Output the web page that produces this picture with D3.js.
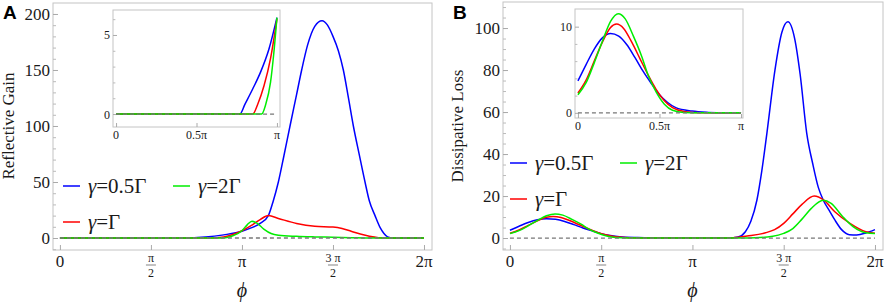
<!DOCTYPE html>
<html lang="en">
<head>
<meta charset="UTF-8">
<title>Reflective Gain and Dissipative Loss</title>
<script src="https://d3js.org/d3.v7.min.js"></script>
<style>
  body { margin: 0; background: #fff; }
  svg text { font-family: "Liberation Serif", "Times New Roman", "DejaVu Serif", serif !important; fill: #1a1a1a; }
  svg text.letter { font-family: "Liberation Sans", Arial, sans-serif !important; font-weight: bold; fill: #000; }
</style>
</head>
<body>
<svg id="chart" width="886" height="303"></svg>
<script>
// x values are in units of pi
const seriesNames = ["γ=0.5Γ", "γ=Γ", "γ=2Γ"];
const seriesColors = ["#0000ff", "#ff0000", "#00ee00"];

// Panel A - reflective gain
const gainBlue = [[0,0],[0.6,0],[0.72,0.1],[0.8,0.8],[0.9,2.8],[1.0,6],[1.05,9],[1.1,13],[1.145,20],[1.17,32],[1.2,50],
  [1.23,73],[1.264,100],[1.3,128],[1.328,150],[1.36,172],[1.4,189],[1.44,194],[1.47,190],[1.5,180],[1.53,167],
  [1.557,150],[1.585,125],[1.612,100],[1.645,74],[1.676,50],[1.70,33],[1.731,20],[1.76,9],[1.78,4],[1.8,1],[1.83,0],[2,0]];
const gainRed = [[0,0],[0.8,0],[0.85,0.1],[0.9,0.9],[0.95,3.1],[1.0,6.5],[1.05,11],[1.1,16.5],[1.145,20],[1.2,17.5],
  [1.3,13],[1.4,10.5],[1.5,9.8],[1.55,8.5],[1.6,6],[1.65,3.5],[1.7,1.5],[1.75,0.3],[1.8,0],[2,0]];
const gainGreen = [[0,0],[0.88,0],[0.91,0.3],[0.95,2],[1.0,6.5],[1.03,12],[1.055,15],[1.08,13.5],[1.12,8],[1.16,4],
  [1.2,2.5],[1.3,1.5],[1.4,1],[1.5,0.7],[1.6,0.3],[1.7,0],[2,0]];

// inset A (0..pi)
const gainInsetBlue = [[0,0],[0.77,0],[0.8,0.6],[0.85,1.6],[0.9,2.7],[0.95,4.1],[1.0,6.1]];
const gainInsetRed = [[0,0],[0.85,0],[0.88,0.6],[0.92,1.8],[0.96,3.5],[1.0,6.0]];
const gainInsetGreen = [[0,0],[0.905,0],[0.93,0.6],[0.96,2],[0.98,3.8],[1.0,6.1]];

// Panel B - dissipative loss
const lossBlue = [[0,3.7],[0.05,5.6],[0.1,7.4],[0.15,8.7],[0.2,9.2],[0.25,8.9],[0.3,7.9],[0.35,6.4],[0.4,4.8],[0.45,3.4],
  [0.5,2.1],[0.55,1.2],[0.6,0.6],[0.7,0.2],[0.8,0.05],[0.9,0],[1.2,0],[1.25,0.5],[1.29,3],[1.32,8],[1.353,18],[1.38,32],
  [1.408,50],[1.452,80],[1.49,98],[1.523,103],[1.56,95],[1.59,78],[1.626,50],[1.66,35],[1.69,24],[1.717,18],[1.75,13],
  [1.78,8.6],[1.817,4],[1.86,1.6],[1.9,1.5],[1.95,2.4],[2,4]];
const lossRed = [[0,2.3],[0.05,3.8],[0.1,6],[0.15,8.2],[0.2,9.9],[0.237,10.3],[0.28,9.8],[0.33,8.2],[0.38,6.3],[0.43,4.4],
  [0.48,2.7],[0.53,1.4],[0.58,0.6],[0.65,0.15],[0.75,0],[1.2,0],[1.3,1],[1.4,2.5],[1.45,4],[1.5,7],[1.55,11.5],[1.6,16],
  [1.667,20],[1.72,18],[1.78,12.5],[1.863,7],[1.95,3],[2,2.3]];
const lossGreen = [[0,2.1],[0.05,3.5],[0.1,5.8],[0.15,8.3],[0.2,10.6],[0.247,11.5],[0.29,10.9],[0.34,8.9],[0.39,6.6],
  [0.43,4.4],[0.48,2.4],[0.53,1.0],[0.58,0.3],[0.65,0.05],[0.75,0],[1.3,0],[1.44,0.8],[1.5,2.2],[1.55,4.5],[1.6,9],
  [1.65,14],[1.716,18],[1.76,16.5],[1.82,10.5],[1.88,5.4],[1.95,2.5],[2,2.1]];

// inset B (0..pi)
const lossInsetBlue = lossBlue.filter(d => d[0] <= 1).concat([[1,0]]);
const lossInsetRed = lossRed.filter(d => d[0] <= 1).concat([[1,0]]);
const lossInsetGreen = lossGreen.filter(d => d[0] <= 1).concat([[1,0]]);

// ticks
const mainXTicks = [0, 0.5, 1, 1.5, 2];
const mainXLabels = [{n: "0"}, {n: "π", d: "2"}, {n: "π"}, {n: "3 π", d: "2"}, {n: "2π"}];
const insetXTicks = [0, 0.5, 1];
const insetXLabels = ["0", "0.5π", "π"];

const svg = d3.select("#chart");
const line = (x, y) => d3.line().x(d => x(d[0])).y(d => y(d[1])).curve(d3.curveMonotoneX);

function frame(g, x, y) {
  const [x0, x1] = x.range(), [y0, y1] = y.range();
  g.append("rect").attr("x", x0).attr("y", y1).attr("width", x1 - x0).attr("height", y0 - y1)
    .attr("fill", "#fff").attr("stroke", "#c4c4c4").attr("stroke-width", 1);
}

function ticksY(g, x, y, major, minor, size, labelFmt, fontSize) {
  const left = x.range()[0];
  g.append("g").attr("transform", `translate(${left},0)`)
    .call(d3.axisLeft(y).tickValues(minor).tickSize(-size * 0.6).tickFormat(""))
    .call(s => s.select(".domain").remove())
    .call(s => s.selectAll("line").attr("stroke", "#bbb"));
  const ax = g.append("g").attr("transform", `translate(${left},0)`)
    .call(d3.axisLeft(y).tickValues(major).tickSize(-size).tickPadding(3).tickFormat(labelFmt))
    .call(s => s.select(".domain").remove());
  ax.selectAll("line").attr("stroke", "#aaa");
  ax.selectAll("text").attr("font-size", fontSize).attr("dy", "0.33em");
}

function ticksX(g, x, y, values, size) {
  const bottom = y.range()[0];
  g.append("g").attr("transform", `translate(0,${bottom})`)
    .call(d3.axisBottom(x).tickValues(values).tickSize(-size).tickFormat(""))
    .call(s => s.select(".domain").remove())
    .call(s => s.selectAll("line").attr("stroke", "#aaa"));
}

function curves(g, x, y, data) {
  data.forEach((s, i) => {
    g.append("path").datum(s).attr("d", line(x, y)).attr("fill", "none")
      .attr("stroke", seriesColors[i]).attr("stroke-width", 1.5);
  });
}

function zeroLine(g, x, y, x1) {
  g.append("line").attr("x1", x(0)).attr("x2", x(x1)).attr("y1", y(0)).attr("y2", y(0))
    .attr("stroke", "#777").attr("stroke-width", 1.3).attr("stroke-dasharray", "4,3");
}

function panel(opt) {
  const g = svg.append("g");
  const x = d3.scaleLinear().domain([-0.038, 2.044]).range(opt.xr);
  const y = d3.scaleLinear().domain(opt.yd).range([250, opt.top]);
  frame(g, x, y);
  ticksY(g, x, y, opt.yMajor, opt.yMinor, 5, d3.format("d"), 17);
  ticksX(g, x, y, mainXTicks, 5);
  curves(g, x, y, opt.data);
  zeroLine(g, x, y, 2);

  // x tick labels
  const xl = g.append("g").selectAll("g").data(mainXTicks).join("g")
    .attr("transform", d => `translate(${x(d)},0)`);
  xl.each(function(d, i) {
    const lab = mainXLabels[i], s = d3.select(this);
    if (!lab.d) {
      s.append("text").attr("y", 267).attr("text-anchor", "middle").attr("font-size", 17).text(lab.n);
    } else {
      s.append("text").attr("y", 262).attr("text-anchor", "middle").attr("font-size", 12).text(lab.n);
      s.append("line").attr("x1", -5).attr("x2", 5).attr("y1", 265).attr("y2", 265)
        .attr("stroke", "#333").attr("stroke-width", 0.6);
      s.append("text").attr("y", 277).attr("text-anchor", "middle").attr("font-size", 12).text(lab.d);
    }
  });
  g.append("text").attr("x", x(1)).attr("y", 297).attr("text-anchor", "middle")
    .attr("font-size", 20).attr("font-style", "italic").text("ϕ");
  g.append("text").attr("transform", `translate(${opt.ylabX},126) rotate(-90)`)
    .attr("text-anchor", "middle").attr("font-size", 17).text(opt.ylab);
  g.append("text").attr("class", "letter").attr("x", opt.letterX).attr("y", 19)
    .attr("font-size", 19).text(opt.letter);

  // legend
  const lg = g.append("g");
  opt.legend.forEach((p, i) => {
    lg.append("line").attr("x1", p[0]).attr("x2", p[0] + 17).attr("y1", p[1]).attr("y2", p[1])
      .attr("stroke", seriesColors[i]).attr("stroke-width", 1.5);
    const t = lg.append("text").attr("x", p[0] + 25).attr("y", p[1] + 7).attr("font-size", 21);
    const parts = seriesNames[i].split("=");
    t.append("tspan").attr("font-style", "italic").text(parts[0]);
    t.append("tspan").text("=" + parts[1]);
  });

  // inset
  const ins = opt.inset;
  const ig = svg.append("g");
  const ix = d3.scaleLinear().domain(ins.xd).range(ins.xr);
  const iy = d3.scaleLinear().domain(ins.yd).range(ins.yr);
  frame(ig, ix, iy);
  ticksY(ig, ix, iy, ins.yMajor, ins.yMinor, 4, d3.format("d"), 12);
  ticksX(ig, ix, iy, insetXTicks, 4);
  curves(ig, ix, iy, ins.data);
  zeroLine(ig, ix, iy, 1);
  ig.selectAll(".xl").data(insetXTicks).join("text")
    .attr("x", d => ix(d)).attr("y", ins.yr[0] + 12).attr("text-anchor", "middle")
    .attr("font-size", 12).text((d, i) => insetXLabels[i]);
}

panel({
  xr: [53, 432], yd: [-10.7, 209.8], top: 3,
  yMajor: [0, 50, 100, 150, 200], yMinor: d3.range(-10, 210, 10),
  data: [gainBlue, gainRed, gainGreen],
  ylab: "Reflective Gain", ylabX: 14, letter: "A", letterX: 3,
  legend: [[63, 186], [63, 222], [173, 186]],
  inset: {
    xd: [-0.019, 1.019], xr: [113, 280], yd: [-0.82, 6.58], yr: [127, 10],
    yMajor: [0, 5], yMinor: [1, 2, 3, 4, 6],
    data: [gainInsetBlue, gainInsetRed, gainInsetGreen]
  }
});

panel({
  xr: [503, 883], yd: [-5.7, 112.4], top: 2,
  yMajor: [0, 20, 40, 60, 80, 100], yMinor: d3.range(-5, 112, 5),
  data: [lossBlue, lossRed, lossGreen],
  ylab: "Dissipative Loss", ylabX: 463, letter: "B", letterX: 453,
  legend: [[510, 163], [510, 199], [620, 163]],
  inset: {
    xd: [-0.018, 1.012], xr: [575, 743], yd: [-0.6, 12.05], yr: [118, 9],
    yMajor: [0, 10], yMinor: [2, 4, 6, 8],
    data: [lossInsetBlue, lossInsetRed, lossInsetGreen]
  }
});
</script>
</body>
</html>
